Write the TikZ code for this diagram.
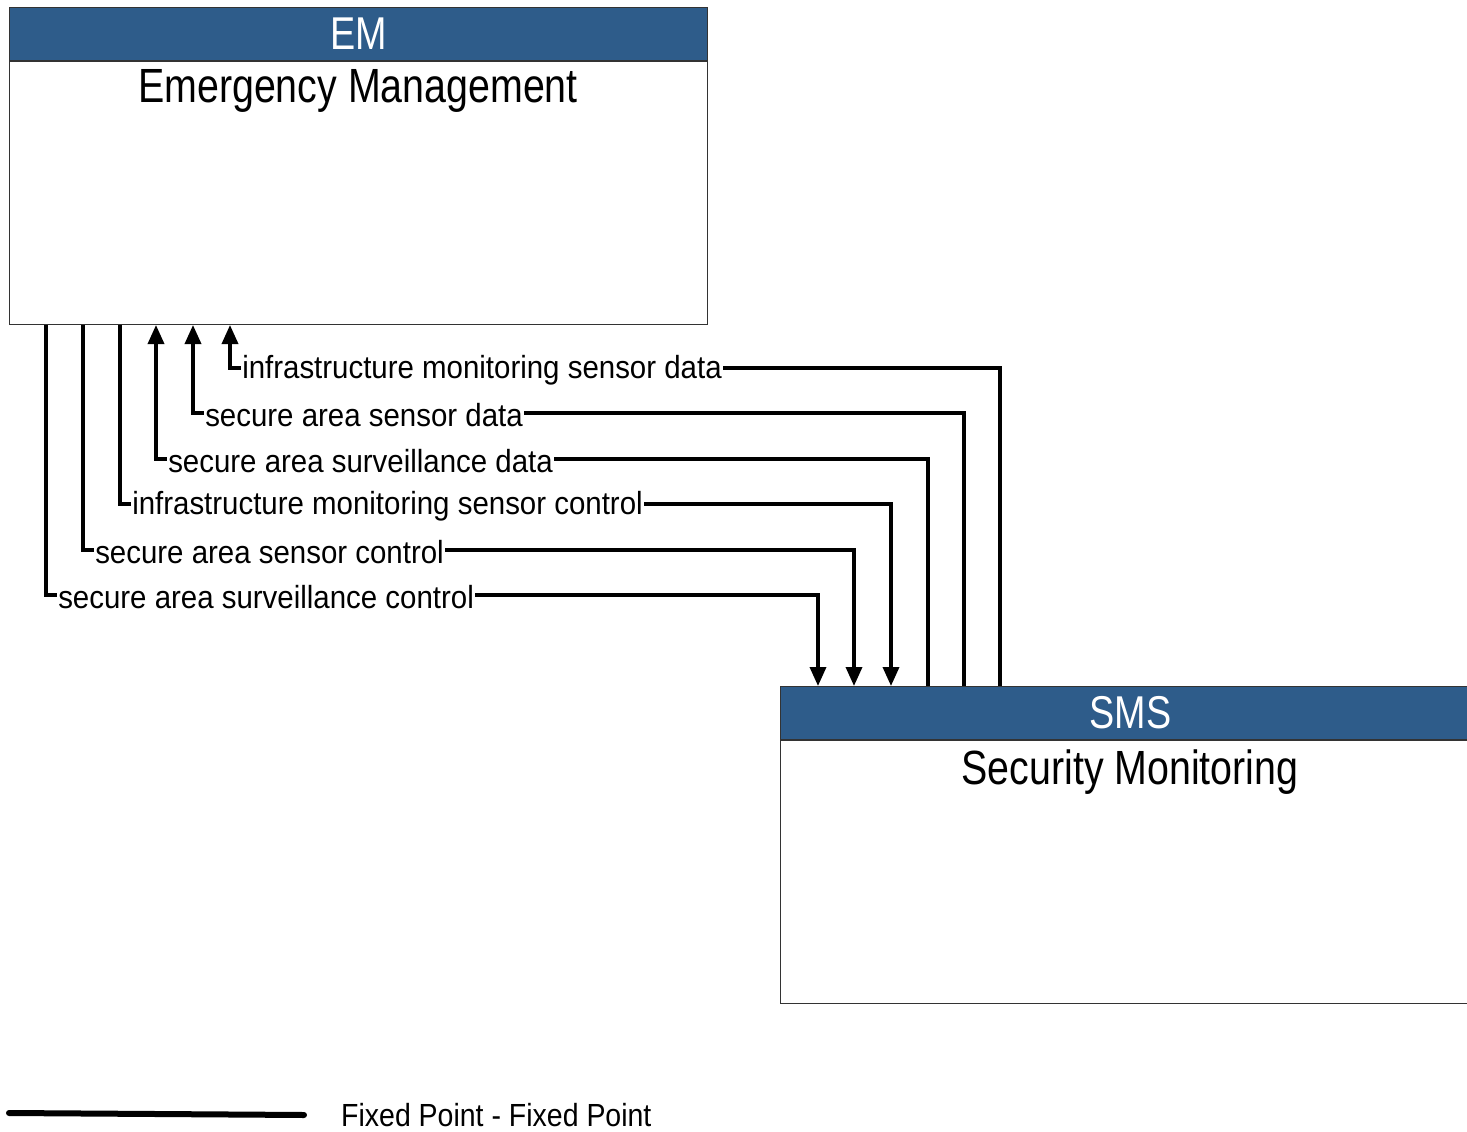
\documentclass[tikz,border=0pt]{standalone}
\usepackage{fontspec}
\setmainfont{Liberation Sans}[FakeStretch=0.86]
\newfontfamily\lblfont{Liberation Sans}[FakeStretch=0.92]
\newfontfamily\legfont{Liberation Sans}[FakeStretch=0.89]
\newfontfamily\ttlfont{Liberation Sans}[FakeStretch=0.82]
\usetikzlibrary{arrows.meta, positioning}
\definecolor{hdrblue}{RGB}{46,92,138}

\begin{document}
\begin{tikzpicture}[
    x=1pt, y=-1pt,
    hdr/.style={draw=black!80, fill=hdrblue, text=white, font=\ttlfont\fontsize{46}{46}\selectfont,
                minimum height=53pt, inner sep=0pt, line width=1pt},
    body/.style={draw=black!80, fill=white, minimum height=263pt, inner sep=0pt, line width=1pt},
    ttl/.style={font=\ttlfont\fontsize{48}{48}\selectfont, inner sep=0pt},
    lbl/.style={font=\lblfont\fontsize{32}{32}\selectfont, fill=white, inner sep=1.5pt, anchor=west,
                xshift=9pt, yshift=-2pt},
    flow/.style={line width=3.5pt},
    >={Triangle[length=19pt, width=16pt]}
  ]
    \useasboundingbox (0,0) rectangle (1467,1132);
    % elements
    \node[hdr, minimum width=698pt, anchor=north west] (emh) at (9,7) {EM};
    \node[body, minimum width=698pt, below=0pt of emh] (em) {};
    \node[ttl] (emt) at (358,91) {Emergency Management};
    \node[hdr, minimum width=700pt, anchor=north west] (smsh) at (780,686) {SMS};
    \node[body, minimum width=700pt, below=0pt of smsh] (sms) {};
    \node[ttl] (smst) at (1130,772) {Security Monitoring};
    % flows
    \foreach \xe/\xs/\yl/\txt/\dir in {
        46/818/595/secure area surveillance control/->,
        83/854/550/secure area sensor control/->,
        120/891/504/infrastructure monitoring sensor control/->,
        156/928/459/secure area surveillance data/<-,
        193/964/413/secure area sensor data/<-,
        230/1000/368/infrastructure monitoring sensor data/<-}
      \draw[flow, \dir] (em.south -| \xe,0) |- node[lbl, pos=0.5] {\txt} (\xs,\yl) -- (smsh.north -| \xs,0);
    % legend
    \node[font=\legfont\fontsize{32}{32}\selectfont, inner sep=0pt, anchor=west] (leg) at (341,1115) {Fixed Point - Fixed Point};
    \coordinate (legs) at (9,1113);
    \draw[line width=6pt, line cap=round] (legs) -- ([xshift=-37pt]leg.west);
\end{tikzpicture}
\end{document}
